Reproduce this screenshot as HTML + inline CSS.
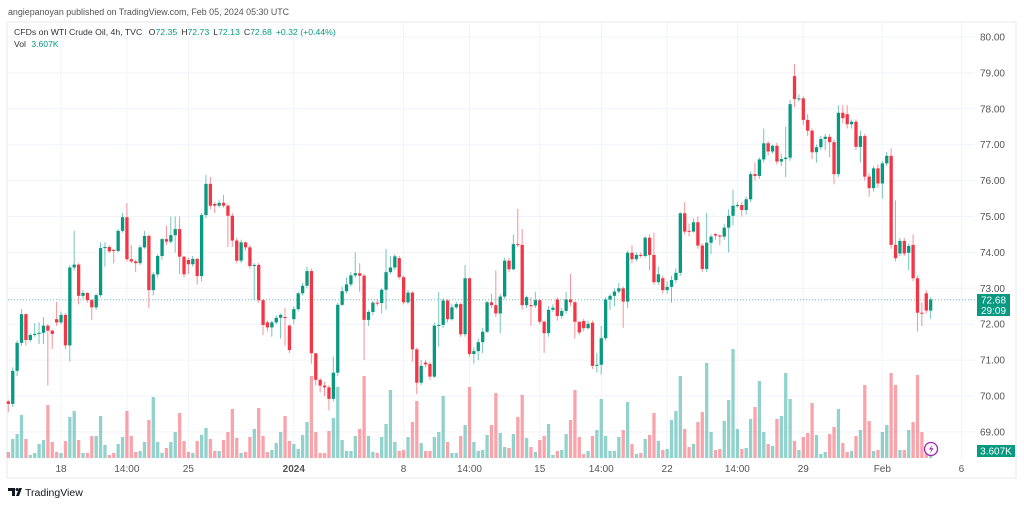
<!DOCTYPE html>
<html><head><meta charset="utf-8"><style>
body{margin:0;width:1024px;height:505px;background:#fff;overflow:hidden;font-family:"Liberation Sans",sans-serif;}
svg{display:block}
</style></head><body>
<svg id="chart" width="1024" height="505" viewBox="0 0 1024 505">
<text x="8" y="15" font-size="8.9" fill="#555">angiepanoyan published on TradingView.com, Feb 05, 2024 05:30 UTC</text>
<rect x="7" y="22" width="1009" height="456" fill="none" stroke="#e6e8ee"/>
<g id="grid"></g>
<g id="vol"></g>
<line x1="8" x2="975" y1="299.7" y2="299.7" stroke="#26a69a" stroke-dasharray="1,2" stroke-width="1" opacity="0.7"/>
<g id="candles"></g>
<g id="yaxis"></g>
<g id="xaxis"></g>
<text x="14" y="35" font-size="8.7" fill="#333">CFDs on WTI Crude Oil, 4h, TVC <tspan dx="4" fill="#333">O</tspan><tspan fill="#089981">72.35</tspan><tspan dx="4" fill="#333">H</tspan><tspan fill="#089981">72.73</tspan><tspan dx="4" fill="#333">L</tspan><tspan fill="#089981">72.13</tspan><tspan dx="4" fill="#333">C</tspan><tspan fill="#089981">72.68</tspan><tspan dx="4" fill="#089981">+0.32 (+0.44%)</tspan></text>
<text x="14" y="47" font-size="8.6" fill="#333">Vol <tspan dx="3" fill="#089981">3.607K</tspan></text>
<g><rect x="977" y="294" width="33" height="22" fill="#089981"/><text x="993.5" y="303.5" font-size="10" fill="#fff" text-anchor="middle">72.68</text><text x="993.5" y="314" font-size="10" fill="#fff" text-anchor="middle">29:09</text></g>
<g><rect x="977" y="445" width="38" height="12" fill="#089981"/><text x="996" y="454.5" font-size="10" fill="#fff" text-anchor="middle">3.607K</text></g>
<g><circle cx="931" cy="449" r="6.5" fill="#fff" stroke="#9c27b0" stroke-width="1.3"/><path d="M932.5 444.5 L929 449.5 L931.5 449.5 L930 453.5 L933.5 448.3 L931 448.3 Z" fill="#9c27b0"/></g>
<g><path d="M8 488 h7 v8 h-3 v-5 h-4z M16 496 l3-8 h3 l-3 8z" fill="#131722"/><circle cx="17" cy="489.5" r="1.5" fill="#131722"/><text x="25" y="496" font-size="10.5" fill="#131722">TradingView</text></g>
</svg>
<script>
const opens=[69.85,69.78,70.70,71.48,72.28,71.56,71.70,71.73,71.76,71.96,71.82,72.14,72.05,72.26,71.41,73.58,73.66,72.79,72.87,72.67,72.47,72.81,74.12,74.15,74.07,74.04,74.60,74.98,73.81,73.75,73.70,74.14,74.46,72.95,73.39,73.90,74.37,74.30,74.48,74.65,73.88,73.79,73.67,73.82,73.34,75.04,75.91,75.35,75.30,75.38,75.30,75.02,74.33,73.77,74.28,74.14,73.62,73.65,72.67,72.05,71.91,72.05,72.18,72.20,71.96,72.14,72.42,72.86,73.07,73.48,71.19,70.45,70.29,70.24,69.92,70.65,72.54,72.92,73.11,73.36,73.42,73.35,72.12,72.34,72.60,72.59,72.96,73.45,73.58,73.84,73.31,72.61,72.88,71.30,70.37,70.93,70.89,70.54,71.98,71.98,72.66,72.14,72.47,72.56,71.72,73.28,71.17,71.25,71.50,71.79,72.61,72.53,72.30,72.77,73.77,73.53,74.23,74.21,72.53,72.53,72.52,72.67,72.07,71.75,72.40,72.69,72.23,72.37,72.69,72.61,72.07,72.09,71.89,72.04,70.84,70.87,71.61,72.69,72.79,72.91,73.00,72.63,73.99,73.81,73.93,73.90,74.41,73.93,73.17,73.28,72.95,73.04,73.23,73.43,75.09,74.60,74.58,74.84,74.19,73.54,74.27,74.51,74.47,74.44,74.69,75.02,75.30,75.32,75.18,75.48,76.18,76.13,76.59,77.04,76.81,76.97,76.53,76.60,76.64,78.91,78.27,78.29,77.69,77.39,76.79,76.93,77.16,77.22,77.07,76.18,77.89,77.85,77.57,77.64,76.94,77.24,76.11,75.79,76.34,75.92,76.48,76.69,74.21,73.97,74.32,73.99,74.21,73.28,72.32,72.86,72.38];
const closes=[69.78,70.70,71.48,72.28,71.56,71.70,71.73,71.76,71.96,71.82,71.73,72.05,72.26,71.41,73.58,73.66,72.79,72.87,72.67,72.47,72.81,74.12,74.15,74.03,74.04,74.60,74.98,73.81,73.75,73.70,74.14,74.46,72.95,73.39,73.90,74.37,74.30,74.48,74.65,73.88,73.39,73.67,73.82,73.34,75.04,75.91,75.30,75.30,75.38,75.30,75.02,74.33,73.77,74.28,74.14,73.62,73.65,72.67,71.98,71.91,72.05,72.18,72.26,72.17,71.28,72.42,72.86,73.07,73.48,71.19,70.45,70.29,70.24,69.92,70.65,72.54,72.92,73.11,73.36,73.42,73.35,72.12,72.34,72.60,72.59,72.96,73.45,73.58,73.89,73.31,72.61,72.88,71.30,70.37,70.84,70.88,70.54,71.96,71.98,72.66,72.14,72.47,72.56,71.72,73.28,71.17,71.25,71.50,71.79,72.61,72.53,72.30,72.77,73.77,73.53,74.23,74.21,72.53,72.75,72.52,72.67,72.07,71.75,72.40,72.46,72.23,72.37,72.69,72.61,72.07,71.77,71.89,72.01,70.84,70.87,71.61,72.69,72.79,72.91,73.00,72.63,73.99,73.81,73.93,73.90,74.41,73.93,73.17,73.39,72.95,73.04,73.23,73.43,75.09,74.58,74.58,74.84,74.19,73.54,74.27,74.44,74.47,74.44,74.69,75.02,75.30,75.32,75.18,75.48,76.18,76.13,76.59,77.04,76.81,76.97,76.53,76.60,76.64,78.13,78.27,78.29,77.69,77.39,76.79,76.93,77.16,77.22,77.07,76.18,77.89,77.74,77.57,77.64,76.94,77.24,76.11,75.79,76.34,75.92,76.48,76.69,74.21,73.84,74.32,73.97,74.18,73.28,72.32,72.30,72.38,72.69];
const highs=[69.9,70.8,71.55,72.42,72.3,71.75,72.03,72.05,72.2,72.0,71.85,72.62,72.35,72.3,73.65,74.6,73.7,72.95,72.9,72.7,72.85,74.28,74.28,74.2,74.1,74.65,75.1,75.37,74.2,73.8,74.2,74.6,74.5,73.45,73.95,74.4,74.75,75.0,75.0,75.0,73.9,73.85,73.9,73.85,75.1,76.16,76.1,75.4,75.45,75.6,75.35,75.1,74.4,74.35,74.3,74.2,73.7,73.7,72.7,72.1,72.1,72.25,72.3,72.45,72.0,72.5,72.9,73.15,73.6,73.55,71.2,70.5,70.4,70.3,71.1,72.6,73.05,73.3,73.45,74.0,73.7,73.4,72.4,72.65,72.7,73.0,74.1,73.9,73.95,73.9,73.35,72.95,72.92,71.35,71.0,71.0,70.95,72.05,72.9,72.72,72.7,72.55,72.62,72.6,73.65,73.3,71.35,71.6,71.9,72.65,72.85,73.5,72.85,73.85,73.85,74.5,75.21,74.65,72.8,72.75,72.9,72.7,72.1,72.5,72.55,72.75,72.45,72.9,73.4,72.65,72.05,72.15,72.1,72.1,71.2,71.95,72.75,72.85,73.0,73.15,73.05,74.05,74.2,74.0,74.0,74.45,74.5,74.55,73.6,73.35,73.2,73.35,73.55,75.12,75.4,74.8,74.95,75.0,74.25,75.1,74.5,74.55,74.5,74.8,75.2,75.75,75.4,75.4,75.55,76.25,76.5,76.65,77.45,77.1,77.0,77.05,76.75,77.5,78.25,79.25,78.4,78.35,77.85,77.45,77.0,77.25,77.3,77.3,77.15,78.1,78.1,78.1,77.7,77.7,77.4,77.3,76.2,76.4,76.45,76.55,76.8,76.9,75.45,74.4,74.4,74.25,74.5,73.35,72.6,72.95,72.75];
const lows=[69.55,69.7,70.55,71.4,71.4,71.5,71.65,71.45,71.45,70.29,71.31,71.95,72.0,71.3,70.96,73.5,72.55,72.7,72.6,72.12,72.4,72.75,73.6,73.98,73.7,74.0,74.55,73.75,73.7,73.45,73.65,74.1,72.45,72.8,73.3,73.8,74.2,74.25,74.0,73.4,73.3,73.4,73.6,73.1,73.2,74.95,75.2,75.1,75.25,75.25,74.15,74.15,73.7,73.7,74.05,73.55,72.67,72.6,71.7,71.8,71.65,72.0,71.6,71.4,71.2,72.0,72.35,72.8,73.0,70.9,70.3,70.1,70.0,69.6,69.85,70.55,72.5,72.85,73.05,73.3,72.9,71.0,71.95,72.25,72.5,72.3,72.4,73.4,73.5,73.25,72.55,72.55,70.95,70.05,70.3,70.8,70.45,70.5,71.37,71.9,72.05,72.1,72.42,71.65,71.65,71.1,70.9,71.0,71.2,71.75,72.45,72.2,71.75,72.7,73.45,73.5,74.15,72.4,72.45,71.95,72.45,72.0,71.2,71.65,72.35,72.1,72.15,72.3,72.5,71.6,71.7,71.8,71.85,70.75,70.65,70.6,71.55,72.4,72.5,72.85,71.9,72.45,73.7,73.75,73.85,73.85,73.5,73.1,73.1,72.85,72.85,72.6,73.15,73.35,74.5,74.45,74.55,74.1,73.45,73.45,73.95,74.35,74.2,74.35,74.0,74.75,75.25,75.0,75.05,75.4,76.0,76.05,76.5,76.7,76.75,76.45,76.4,76.1,76.55,78.05,78.2,77.55,77.25,76.6,76.5,76.85,76.85,76.65,75.9,76.1,77.6,77.45,77.45,76.85,76.5,76.0,75.55,75.7,75.8,75.5,76.4,74.1,73.75,73.9,73.9,73.5,73.2,71.8,71.95,72.3,72.15];
const volumes=[6,19,24,43,19,3,5,14,18,53,16,6,5,17,41,47,18,5,5,22,22,42,13,3,5,14,21,47,22,6,7,16,38,61,16,5,10,16,26,45,17,6,5,17,23,30,19,7,7,18,26,49,20,5,6,21,29,50,22,6,8,15,26,42,17,14,9,23,36,82,26,5,5,27,40,71,18,7,7,22,29,82,22,6,5,21,34,68,16,7,8,21,36,57,15,7,7,21,26,62,16,5,5,22,33,71,16,7,8,23,33,65,25,11,10,24,41,63,20,11,6,18,22,34,3,7,8,24,38,68,21,4,7,22,28,59,22,7,7,21,28,56,14,4,5,19,23,45,17,8,9,38,47,82,29,11,14,36,46,95,26,8,9,37,58,109,29,9,10,39,51,77,26,14,12,39,42,85,59,17,8,21,25,55,23,4,6,24,31,49,15,6,7,22,28,73,37,7,8,26,33,85,73,8,8,28,36,83,26,12,3];
const priceTicks=[80,79,78,77,76,75,74,73,72,71,70,69];
const xTickLabels=["18","14:00","25","2024","8","14:00","15","14:00","22","14:00","29","Feb","6"];
const xTickBars=[12,27,41,65,90,105,121,135,150,166,181,199,217];

const NS="http://www.w3.org/2000/svg";
const X0=8.3, DX=4.392;
function xScale(i){return X0+DX*i;}
function yScale(p){return 37+(80-p)*35.9;}
function vScale(v){return 458-v;}
function mk(tag,attrs,parent){const e=document.createElementNS(NS,tag);for(const k in attrs)e.setAttribute(k,attrs[k]);parent.appendChild(e);return e;}
const grid=document.getElementById('grid'),cg=document.getElementById('candles'),vg=document.getElementById('vol'),ya=document.getElementById('yaxis'),xa=document.getElementById('xaxis');
priceTicks.forEach(p=>{
  const y=yScale(p);
  const l=mk('line',{x1:8,x2:975,y1:y,y2:y,stroke:'#f0f3fa'},grid);
  
  
  const t=mk('text',{x:1005,y:y+3.5,'font-size':10,fill:'#555','text-anchor':'end'},ya);
  t.textContent=p.toFixed(2);
  
  
});
xTickLabels.forEach((lab,k)=>{
  const x=xScale(xTickBars[k]);
  const l=mk('line',{x1:x,x2:x,y1:23,y2:460,stroke:'#f0f3fa'},grid);
  
  
  const t=mk('text',{x:x,y:472,'font-size':10,fill:'#555','text-anchor':'middle','font-weight':lab==='2024'?'bold':'normal'},xa);
  t.textContent=lab;
  
  
});
for(let i=0;i<closes.length;i++){
  const x=xScale(i),o=opens[i],c=closes[i],up=c>=o;
  const col=up?'#089981':'#f23645';
  const vb=mk('rect',{x:x-1.6,y:vScale(volumes[i]),width:3.3,height:volumes[i],fill:up?'rgba(38,166,154,0.5)':'rgba(242,54,69,0.45)'},vg);
  
  
  const w=mk('line',{x1:x,x2:x,y1:yScale(highs[i]),y2:yScale(lows[i]),stroke:col,'stroke-width':1,opacity:0.55},cg);
  
  
  const top=yScale(Math.max(o,c)),bot=yScale(Math.min(o,c));
  const b=mk('rect',{x:x-1.6,y:top,width:3.3,height:Math.max(1,bot-top),fill:col},cg);
  
  
}
</script>
</body></html>
